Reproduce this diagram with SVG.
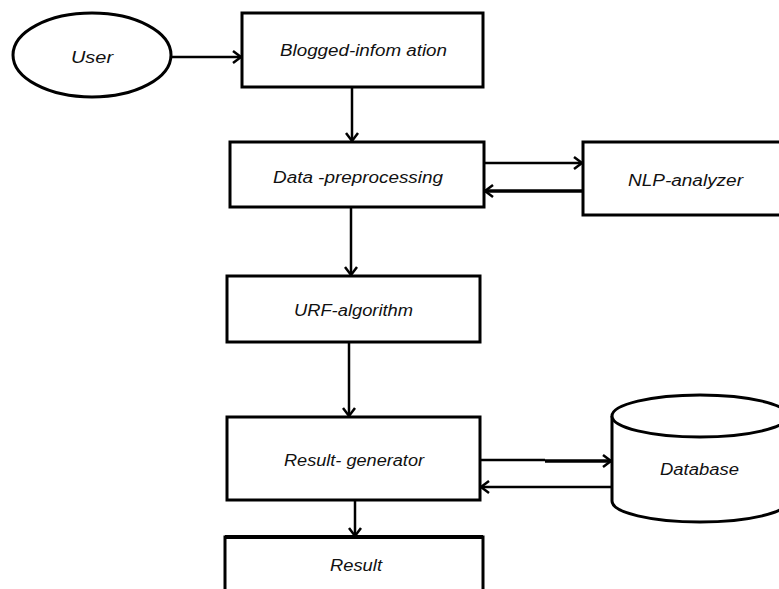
<svg xmlns="http://www.w3.org/2000/svg" width="779" height="589" viewBox="0 0 779 589">
  <style>
    .shape { fill: #ffffff; stroke: #000000; stroke-width: 3; }
    .label { font-family: "Liberation Sans", Arial, sans-serif; font-size: 16px; font-style: italic; fill: #111111; text-anchor: start; }
    .link { fill: none; stroke: #000000; stroke-width: 2.5; }
    .thick { stroke-width: 3.5; }
  </style>
  <defs>
    <marker id="arrow" markerUnits="userSpaceOnUse" markerWidth="14" markerHeight="16" refX="11" refY="8" orient="auto">
      <path d="M3,2 L11,8 L3,14" fill="none" stroke="#000000" stroke-width="2.5"/>
    </marker>
  </defs>

  <rect width="779" height="589" fill="#ffffff"/>

  <!-- connectors -->
  <g id="connectors">
    <line class="link" x1="172" y1="57" x2="241" y2="57" marker-end="url(#arrow)"/>
    <line class="link" x1="352" y1="87" x2="352" y2="141" marker-end="url(#arrow)"/>
    <line class="link" x1="478" y1="163" x2="582" y2="163" marker-end="url(#arrow)"/>
    <line class="link thick" x1="592" y1="191" x2="485" y2="191" marker-end="url(#arrow)"/>
    <line class="link" x1="351" y1="207" x2="351" y2="275" marker-end="url(#arrow)"/>
    <line class="link" x1="349" y1="342" x2="349" y2="416" marker-end="url(#arrow)"/>
    <line class="link" x1="480" y1="460" x2="545" y2="460"/>
    <line class="link thick" x1="545" y1="461" x2="611" y2="461" marker-end="url(#arrow)"/>
    <line class="link" x1="612" y1="487" x2="481" y2="487" marker-end="url(#arrow)"/>
    <line class="link" x1="355" y1="500" x2="355" y2="536" marker-end="url(#arrow)"/>
  </g>

  <!-- nodes -->
  <g id="user">
    <ellipse class="shape" cx="92" cy="55" rx="79" ry="42"/>
    <text class="label" x="71" y="63" textLength="42" lengthAdjust="spacingAndGlyphs">User</text>
  </g>

  <g id="blogged-information">
    <rect class="shape" x="242" y="13" width="241" height="74"/>
    <text class="label" x="280" y="56" textLength="167" lengthAdjust="spacingAndGlyphs">Blogged-infom ation</text>
  </g>

  <g id="data-preprocessing">
    <rect class="shape" x="230" y="142" width="254" height="65"/>
    <text class="label" x="273" y="183" textLength="170" lengthAdjust="spacingAndGlyphs">Data -preprocessing</text>
  </g>

  <g id="nlp-analyzer">
    <rect class="shape" x="583" y="142" width="210" height="73"/>
    <text class="label" x="628" y="186" textLength="115" lengthAdjust="spacingAndGlyphs">NLP-analyzer</text>
  </g>

  <g id="urf-algorithm">
    <rect class="shape" x="227" y="276" width="253" height="66"/>
    <text class="label" x="294" y="316" textLength="119" lengthAdjust="spacingAndGlyphs">URF-algorithm</text>
  </g>

  <g id="result-generator">
    <rect class="shape" x="227" y="417" width="253" height="83"/>
    <text class="label" x="284" y="466" textLength="140" lengthAdjust="spacingAndGlyphs">Result- generator</text>
  </g>

  <g id="database">
    <path class="shape" d="M612,416 L612,501 A88,21 0 0 0 788,501 L788,416"/>
    <ellipse class="shape" cx="700" cy="416" rx="88" ry="21"/>
    <text class="label" x="660" y="475" textLength="79" lengthAdjust="spacingAndGlyphs">Database</text>
  </g>

  <g id="result">
    <rect class="shape" x="225" y="537" width="258" height="70"/>
    <line x1="225" y1="537" x2="483" y2="537" stroke="#000000" stroke-width="4"/>
    <text class="label" x="330" y="571" textLength="52" lengthAdjust="spacingAndGlyphs">Result</text>
  </g>
</svg>
